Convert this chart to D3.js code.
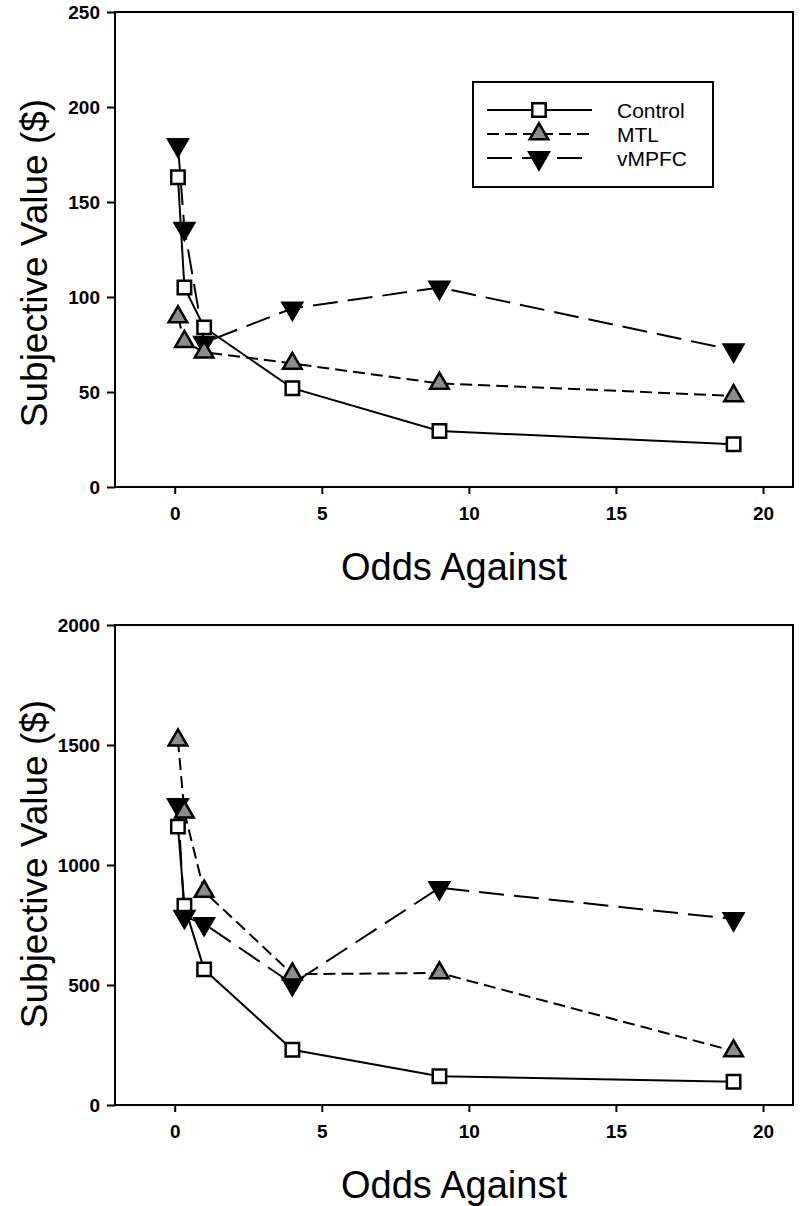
<!DOCTYPE html>
<html>
<head>
<meta charset="utf-8">
<script src="https://cdn.jsdelivr.net/npm/d3@7"></script>
<style>
  body { margin: 0; background: #fff; }
  svg { display: block; }
  text { font-family: "Liberation Sans", Arial, sans-serif; fill: #000; }
  .tick text { font-size: 19px; font-weight: bold; }
  .tick line { stroke: #000; stroke-width: 2; }
</style>
</head>
<body>
<svg id="chart" width="800" height="1206"></svg>
<script>
"use strict"

// odds against (x) shared by both panels
const odds = [0.11, 0.33, 1, 4, 9, 19]
const groups = ["Control", "MTL", "vMPFC"]

// top panel
const topControl = [163, 105, 84, 52, 29.5, 22.5]
const topMTL     = [89.5, 76.5, 71, 65, 54.5, 48]
const topVMPFC   = [180, 136, 76, 94, 105, 72]

// bottom panel
const botControl = [1160, 830, 565, 230, 120, 97]
const botMTL     = [1520, 1220, 890, 545, 550, 225]
const botVMPFC   = [1250, 785, 755, 505, 905, 775]

const xTicks = [0, 5, 10, 15, 20]
const topYTicks = [0, 50, 100, 150, 200, 250]
const botYTicks = [0, 500, 1000, 1500, 2000]

const style = {
    Control: { dash: null,    symbol: d3.symbolSquare,   size: 180, fill: "#fff",    rot: 0 },
    MTL:     { dash: "12,6",  symbol: d3.symbolTriangle, size: 150, fill: "#8c8c8c", rot: 0 },
    vMPFC:   { dash: "25,10", symbol: d3.symbolTriangle, size: 165, fill: "#000",    rot: 180 }
}

const svg = d3.select("#chart")
const x = d3.scaleLinear().domain([-2.03, 21.02]).range([115, 793])

function panel(series, yDomain, yTicks, top, bottom, labelY, legend) {
    const y = d3.scaleLinear().domain(yDomain).range([bottom, top])
    const g = svg.append("g")

    // frame
    g.append("rect")
        .attr("x", x.range()[0]).attr("y", top)
        .attr("width", x.range()[1] - x.range()[0]).attr("height", bottom - top)
        .attr("fill", "none").attr("stroke", "#000").attr("stroke-width", 2)

    const xa = g.append("g").attr("transform", `translate(0,${bottom})`)
        .call(d3.axisBottom(x).tickValues(xTicks).tickFormat(d3.format("d")).tickSize(7).tickPadding(13))
    xa.select(".domain").remove()

    const ya = g.append("g").attr("transform", `translate(${x.range()[0]},0)`)
        .call(d3.axisLeft(y).tickValues(yTicks).tickFormat(d3.format("d")).tickSize(8).tickPadding(7))
    ya.select(".domain").remove()

    g.append("text")
        .attr("x", (x.range()[0] + x.range()[1]) / 2).attr("y", bottom + 93)
        .attr("text-anchor", "middle").style("font-size", "38px")
        .text("Odds Against")

    g.append("text")
        .attr("transform", `translate(47,${labelY}) rotate(-90)`)
        .attr("text-anchor", "middle").style("font-size", "37px")
        .text("Subjective Value ($)")

    const line = d3.line().x((d, i) => x(odds[i])).y(d => y(d))

    groups.forEach((name, k) => {
        g.append("path").datum(series[k])
            .attr("d", line).attr("fill", "none")
            .attr("stroke", "#000").attr("stroke-width", 2)
            .attr("stroke-dasharray", style[name].dash)
    })

    // symbols drawn after lines; MTL last, it sits on top in the picture
    ;[0, 2, 1].forEach(k => {
        const s = style[groups[k]]
        g.append("g").selectAll("path").data(series[k]).join("path")
            .attr("d", d3.symbol(s.symbol, s.size))
            .attr("transform", (d, i) => `translate(${x(odds[i])},${y(d)}) rotate(${s.rot})`)
            .attr("fill", s.fill).attr("stroke", "#000").attr("stroke-width", 2.5)
    })

    if (legend) {
        const lg = g.append("g")
        lg.append("rect").attr("x", 473).attr("y", 82).attr("width", 240).attr("height", 105)
            .attr("fill", "#fff").attr("stroke", "#000").attr("stroke-width", 2)
        groups.forEach((name, k) => {
            const s = style[name]
            const ly = 110 + k * 24
            lg.append("line").attr("x1", 487).attr("x2", 592).attr("y1", ly).attr("y2", ly)
                .attr("stroke", "#000").attr("stroke-width", 2)
                .attr("stroke-dasharray", s.dash)
            lg.append("path").attr("d", d3.symbol(s.symbol, s.size))
                .attr("transform", `translate(539,${ly}) rotate(${s.rot})`)
                .attr("fill", s.fill).attr("stroke", "#000").attr("stroke-width", 2.5)
            lg.append("text").attr("x", 617).attr("y", ly + 7.5)
                .style("font-size", "21px").text(name)
        })
    }
}

panel([topControl, topMTL, topVMPFC], [0, 250], topYTicks, 12, 487, 263, true)
panel([botControl, botMTL, botVMPFC], [0, 2000], botYTicks, 625, 1105, 864, false)
</script>
</body>
</html>
